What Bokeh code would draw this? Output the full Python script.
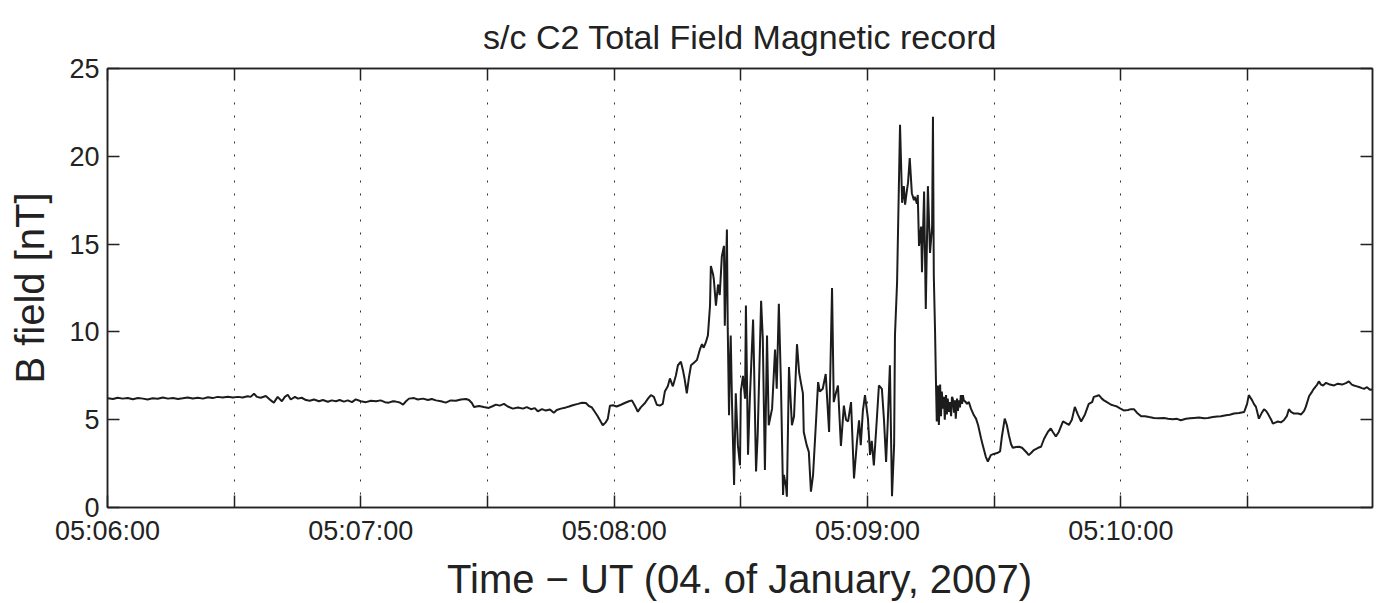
from bokeh.plotting import figure
from bokeh.models import Range1d, FixedTicker, LinearAxis, CustomJSTickFormatter, ColumnDataSource
from bokeh.embed import file_html
from bokeh.resources import INLINE

# Seconds after 05:06:00 UT and total field |B| in nT, spacecraft C2.
# Quiet interval before the crossing
t_quiet = [0.1, 1.3, 2.4, 3.6, 4.8, 6.0, 7.2, 8.4, 9.5, 10.7, 11.9, 13.1, 14.3, 15.5, 16.7, 17.8,
           19.0, 20.2, 21.4, 22.6, 23.8, 24.9, 26.1, 27.3, 28.5, 29.7, 30.9, 32.0, 33.2, 33.9, 34.7,
           35.4, 36.3, 37.5, 38.7, 39.4, 40.3, 41.3, 42.0, 42.7, 43.4, 44.4, 45.1, 46.0, 47.0, 47.9,
           48.9, 50.1, 51.0, 52.2, 53.1, 54.1, 55.0, 56.0, 56.9, 57.9, 58.8, 60.0, 61.2, 62.4, 63.6,
           64.7, 65.7, 66.6, 67.6, 68.3, 69.2, 70.0, 70.7, 71.4, 72.6, 73.5, 74.7, 75.9, 76.8, 77.8,
           79.0, 80.1, 81.3, 82.5, 83.7, 84.9, 85.6, 86.3, 86.8, 88.0, 89.1, 90.3, 91.3, 92.0, 92.9,
           93.9, 94.8, 96.0, 97.2, 98.4, 99.3, 100.3, 101.2, 101.9, 102.9, 103.8, 104.8, 105.7,
           106.4, 107.4, 108.6, 109.3, 110.2, 111.4, 112.4, 113.3, 114.0, 114.7, 115.4, 116.1, 116.9]
b_quiet = [6.22, 6.18, 6.25, 6.2, 6.24, 6.17, 6.23, 6.2, 6.15, 6.22, 6.19, 6.26, 6.2, 6.24, 6.18, 6.22,
           6.27, 6.21, 6.25, 6.2, 6.28, 6.23, 6.3, 6.26, 6.31, 6.27, 6.3, 6.26, 6.33, 6.3, 6.48,
           6.3, 6.25, 6.35, 6.1, 5.97, 6.3, 6.05, 6.3, 6.42, 6.15, 6.3, 6.2, 6.25, 6.12, 6.08,
           6.15, 6.05, 6.12, 6.02, 6.1, 6.05, 6.12, 6.03, 6.1, 6.0, 6.16, 6.05, 6.0, 6.08, 6.05,
           6.1, 6.0, 5.97, 6.05, 6.03, 5.98, 5.86, 6.05, 6.2, 6.23, 6.15, 6.2, 6.12, 6.18, 6.1,
           6.05, 5.97, 6.1, 6.08, 6.15, 6.18, 6.12, 5.95, 5.72, 5.78, 5.72, 5.67, 5.78, 5.86, 5.8,
           5.9, 5.75, 5.63, 5.7, 5.63, 5.72, 5.6, 5.66, 5.48, 5.6, 5.52, 5.58, 5.4,
           5.55, 5.63, 5.7, 5.75, 5.82, 5.9, 5.97, 5.95, 5.78, 5.7, 5.45, 5.2, 4.85]

# Compression, boundary crossings and field pile-up
t_event = [117.3, 118.0, 118.5, 119.0, 119.7, 120.6, 121.6, 122.5, 123.5, 124.2, 124.9, 125.6, 126.3,
           127.3, 128.0, 128.7, 129.4, 130.1, 130.8, 131.5, 132.0, 132.7, 133.2, 133.9, 134.6, 135.1,
           135.8, 136.3, 136.7, 137.2, 137.7, 138.2, 138.9, 139.6, 140.3, 140.8, 141.2, 141.7, 142.2,
           142.7, 142.9, 143.4, 143.6, 144.1, 144.6, 145.0, 145.5, 146.0, 146.2, 146.7, 146.9, 147.2,
           147.4, 147.6, 147.9, 148.4, 148.8, 149.3, 149.8, 150.0, 150.5, 151.0, 151.2, 151.7, 152.1,
           152.9, 153.1, 153.6, 154.0, 154.8, 155.2, 155.7, 156.2, 156.6, 157.4, 158.1, 158.5, 159.0,
           159.5, 160.0, 160.2, 160.7, 160.9, 161.4, 162.1, 162.6, 163.3, 163.8, 164.2, 164.7, 164.9,
           165.6, 166.1, 166.6, 167.1, 167.8, 168.3, 168.7, 169.4, 170.1, 170.9, 171.6, 172.0, 172.5,
           173.0, 173.7, 174.4, 174.9, 175.4, 176.1, 176.8, 177.5, 178.0, 178.4, 178.9, 179.4, 180.1,
           180.6, 181.0, 181.5, 182.2, 182.7, 183.4, 183.9, 184.4, 184.8, 185.3, 185.8, 186.3, 186.5,
           187.0, 187.7, 188.2, 188.6, 188.9, 189.3, 189.6, 190.0, 190.5, 191.0, 191.2, 191.7, 191.9,
           192.2, 192.7, 192.9, 193.4, 193.8, 194.3, 194.8, 195.3, 195.5, 195.7, 196.0, 196.2, 196.4,
           196.7, 196.9, 197.2, 197.4, 197.6, 197.9, 198.1, 198.3, 198.6, 198.8, 199.0, 199.3, 199.5,
           199.8, 200.0, 200.2, 200.5, 200.7, 200.9, 201.2, 201.4, 201.7, 201.9, 202.1, 202.4, 202.6,
           202.8, 203.3, 203.5, 204.0, 204.5, 205.2, 205.7, 206.2, 206.9, 207.3, 208.0, 208.5, 209.2,
           209.9, 210.7, 211.4, 211.8, 212.5, 213.0, 213.5, 214.0, 214.4, 215.2, 215.9, 216.6, 217.0,
           217.8, 218.2, 218.9, 219.4, 220.4, 221.1]
b_event = [4.68, 4.85, 5.06, 5.8, 5.82, 5.75, 5.85, 5.95, 6.05, 6.1, 5.8, 5.45, 5.7,
           5.95, 6.2, 6.4, 6.3, 5.85, 5.8, 5.9, 6.6, 6.9, 7.35, 6.9, 7.5, 8.1,
           8.3, 7.8, 7.3, 6.5, 7.4, 8.1, 8.25, 8.4, 9.0, 9.3, 9.1, 9.4, 9.8,
           11.5, 13.75, 13.3, 13.0, 11.5, 12.7, 12.1, 14.3, 14.9, 10.35, 15.83, 10.2, 5.25,
           8.0, 9.8, 6.0, 1.28, 6.5, 3.55, 2.4, 6.6, 7.5, 6.2, 11.5, 3.0, 6.0,
           10.7, 8.46, 2.05, 4.2, 11.77, 9.6, 2.13, 9.8, 4.68, 5.63, 9.0, 6.76, 11.6,
           7.0, 0.71, 1.85, 1.2, 0.62, 8.0, 4.68, 5.2, 9.3, 7.7, 7.14, 6.5, 4.3,
           3.55, 3.17, 0.9, 1.85, 4.88, 7.14, 6.6, 6.76, 7.6, 4.3, 12.5, 6.0, 6.5,
           6.95, 3.5, 5.8, 5.0, 4.9, 6.0, 1.65, 3.75, 4.97, 3.55, 5.5, 6.4, 5.06,
           3.0, 3.8, 2.4, 5.0, 6.95, 6.76, 5.0, 2.6, 4.9, 8.1, 0.64, 3.55, 9.8,
           12.8, 21.8, 17.35, 18.3, 17.25, 18.0, 18.5, 19.9, 17.9, 17.5, 17.7, 17.3, 17.8,
           14.9, 16.0, 13.4, 18.0, 11.3, 18.3, 14.5, 16.0, 22.25, 13.2, 10.0, 7.3, 4.9,
           6.95, 4.7, 7.0, 5.2, 6.6, 5.63, 6.3, 5.0, 6.4, 5.3, 6.2, 5.45, 6.0,
           5.2, 6.3, 6.2, 5.4, 6.1, 5.06, 6.2, 5.5, 6.1, 5.7, 6.4, 5.9, 6.4,
           6.1, 6.0, 5.9, 6.0, 5.63, 5.25, 5.06, 4.68, 3.93, 3.55, 2.9, 2.62, 2.98,
           3.05, 3.1, 3.19, 4.0, 5.06, 4.7, 4.1, 3.6, 3.4, 3.45, 3.46, 3.4, 3.3,
           3.1, 2.98, 3.15, 3.27, 3.4, 3.46]

# Recovery to the end of the interval
t_recovery = [221.8, 222.7, 223.4, 223.9, 224.6, 225.3, 226.3, 227.0, 227.7, 228.4, 229.1, 229.8,
              230.6, 231.5, 232.4, 233.2, 233.6, 234.3, 234.8, 235.5, 236.0, 236.7, 237.7, 238.4,
              239.1, 239.8, 240.7, 241.7, 242.4, 243.1, 243.8, 244.8, 245.7, 246.7, 247.8, 249.0,
              250.2, 251.2, 252.3, 253.3, 254.2, 255.4, 256.4, 257.3, 258.5, 259.7, 260.6, 261.8,
              262.8, 263.7, 264.9, 265.8, 266.8, 268.0, 269.2, 269.6, 269.9, 270.3, 271.1, 271.5,
              272.0, 272.7, 273.4, 273.9, 274.4, 274.8, 275.6, 276.0, 276.7, 277.2, 277.9, 278.6,
              279.3, 279.8, 280.3, 281.0, 282.0, 282.7, 283.4, 283.8, 284.6, 285.3, 285.7, 286.5,
              286.9, 287.4, 287.9, 288.6, 289.5, 290.5, 291.4, 292.4, 293.3, 294.0, 294.7, 295.2,
              295.9, 296.4, 297.1, 297.6, 298.3, 299.0, 299.5]
b_recovery = [3.9, 4.3, 4.5, 4.3, 4.04, 4.3, 4.9, 4.8, 4.7, 5.0, 5.73, 5.3,
              4.9, 5.3, 5.9, 6.0, 6.3, 6.35, 6.4, 6.2, 6.1, 6.0, 5.85, 5.8,
              5.75, 5.65, 5.53, 5.55, 5.6, 5.6, 5.4, 5.2, 5.2, 5.15, 5.1, 5.08,
              5.1, 5.06, 5.02, 5.05, 4.97, 5.05, 5.08, 5.1, 5.12, 5.08, 5.1, 5.15,
              5.18, 5.2, 5.25, 5.28, 5.35, 5.38, 5.44, 5.7, 5.9, 6.4, 6.1, 5.9,
              5.73, 5.06, 5.4, 5.6, 5.5, 5.35, 5.0, 4.78, 4.85, 4.9, 4.85, 4.97,
              5.2, 5.6, 5.45, 5.35, 5.35, 5.3, 5.5, 5.73, 6.35, 6.6, 6.76, 7.0,
              7.18, 7.0, 6.95, 7.1, 7.0, 6.95, 7.05, 7.0, 7.08, 7.18, 7.0, 6.95,
              6.9, 6.86, 6.8, 6.76, 6.85, 6.7, 6.72]

x_ticks = [0, 30, 60, 90, 120, 150, 180, 210, 240, 270]
x_tick_labels = {0: "05:06:00", 30: "", 60: "05:07:00", 90: "", 120: "05:08:00", 150: "",
                 180: "05:09:00", 210: "", 240: "05:10:00", 270: ""}
y_ticks = [0, 5, 10, 15, 20, 25]

t_all = t_quiet + t_event + t_recovery
b_all = b_quiet + b_event + b_recovery
source = ColumnDataSource(data=dict(t=t_all, b=b_all))

FONT = "Liberation Sans"

p = figure(width=1388, height=603, output_backend="svg", toolbar_location=None,
           x_range=Range1d(0, 299.6), y_range=Range1d(0, 25),
           min_border_left=107, min_border_right=16, min_border_top=68, min_border_bottom=94,
           background_fill_color="white", border_fill_color="white")

p.title.text = "s/c C2 Total Field Magnetic record"
p.title.align = "center"
p.title.text_font = FONT
p.title.text_font_size = "34px"
p.title.text_font_style = "normal"
p.title.text_color = "#222222"
p.title.standoff = 26

p.outline_line_color = "#222222"
p.outline_line_width = 1.5

p.line("t", "b", source=source, line_color="#1c1c1c", line_width=2)

xa = p.xaxis[0]
xa.ticker = FixedTicker(ticks=x_ticks)
xa.major_label_overrides = x_tick_labels
xa.axis_label = "Time \u2212 UT (04. of January, 2007)"
ya = p.yaxis[0]
ya.ticker = FixedTicker(ticks=y_ticks)
ya.axis_label = "B field [nT]"

for ax in (xa, ya):
    ax.major_label_text_font = FONT
    ax.major_label_text_font_size = "27px"
    ax.major_label_text_color = "#222222"
    ax.axis_label_text_font = FONT
    ax.axis_label_text_font_size = "40px"
    ax.axis_label_text_font_style = "normal"
    ax.axis_label_text_color = "#222222"
    ax.major_label_standoff = 8
xa.axis_label_standoff = 8
ya.axis_label_standoff = 14

blank = "return ''"
top = LinearAxis(ticker=FixedTicker(ticks=x_ticks), formatter=CustomJSTickFormatter(code=blank))
right = LinearAxis(ticker=FixedTicker(ticks=y_ticks), formatter=CustomJSTickFormatter(code=blank))
p.add_layout(top, "above")
p.add_layout(right, "right")

for ax in (xa, ya, top, right):
    ax.major_tick_in = 12
    ax.major_tick_out = 0
    ax.minor_tick_line_color = None
    ax.axis_line_color = "#222222"
    ax.axis_line_width = 1.5
    ax.major_tick_line_color = "#222222"
    ax.major_tick_line_width = 1.5
for ax in (top, right):
    ax.major_label_standoff = 0

p.xgrid.ticker = FixedTicker(ticks=x_ticks)
p.xgrid.grid_line_color = "#333333"
p.xgrid.grid_line_dash = "2 11"
p.xgrid.grid_line_width = 1
p.ygrid.visible = False

open("out.html", "w").write(file_html(p, INLINE))
